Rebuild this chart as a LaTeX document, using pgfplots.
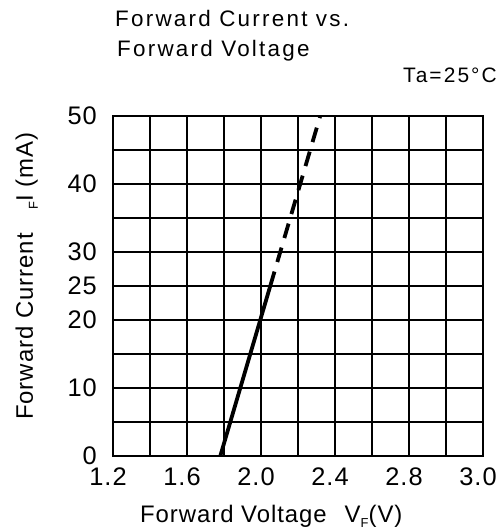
\documentclass[border=0pt]{standalone}
\usepackage{pgfplots}
\pgfplotsset{compat=1.18}
\usepackage{fontspec}
\setmainfont{Liberation Sans}[LetterSpace=4]
\newfontfamily\widefont{Liberation Sans}[LetterSpace=10]
\begin{document}
\begin{tikzpicture}
\path[use as bounding box] (-113bp,-75bp) rectangle (387bp,456bp);
\begin{axis}[
  at={(0,0)}, anchor=south west,
  scale only axis, width=370bp, height=340bp,
  xmin=1.2, xmax=3.2, ymin=0, ymax=50,
  xtick={1.2,1.6,2.0,2.4,2.8,3.2},
  xticklabels={1.2,1.6,2.0,2.4,2.8,3.0},
  minor xtick={1.4,1.8,2.2,2.6,3.0},
  ytick={0,10,20,25,30,40,50},
  yticklabels={0,10,20,25,30,40,50},
  minor ytick={5,15,35,45},
  grid=both,
  major grid style={black, line width=1.7bp},
  minor grid style={black, line width=1.7bp},
  axis line style={black, line width=1.7bp},
  major tick length=0pt, minor tick length=0pt,
  tick label style={font=\fontsize{25.5}{28}\selectfont, inner sep=0pt},
  xticklabel style={anchor=north, yshift=-12bp, xshift=-5bp},
  yticklabel style={anchor=east, xshift=-16bp},
  clip=true,
]
\addplot[black, line width=3.8bp] coordinates {(1.78,0) (2.05,25)};
\addplot[black, line width=3.8bp, dash pattern=on 15bp off 10bp] coordinates {(2.05,25) (2.32,50)};
\end{axis}
\node[anchor=base west, inner sep=0pt, font=\widefont\fontsize{22.5}{26}\selectfont] at (2bp,429bp) {Forward Current vs.};
\node[anchor=base west, inner sep=0pt, font=\widefont\fontsize{22.5}{26}\selectfont] at (4bp,399bp) {Forward Voltage};
\node[anchor=base east, inner sep=0pt, font=\widefont\fontsize{21}{26}\selectfont] at (384bp,373bp) {Ta=25\textdegree C};
\node[anchor=base west, inner sep=0pt, rotate=90, font=\fontsize{24}{28}\selectfont] at (-80bp,36bp) {Forward Current\hspace{24bp}\raisebox{-5bp}{\fontsize{13}{14}\selectfont F}I (mA)};
\node[anchor=base west, inner sep=0pt, font=\fontsize{24}{28}\selectfont] at (27bp,-66bp) {Forward Voltage\hspace{18bp}V\raisebox{-5bp}{\fontsize{13}{14}\selectfont F}(V)};
\end{tikzpicture}
\end{document}
